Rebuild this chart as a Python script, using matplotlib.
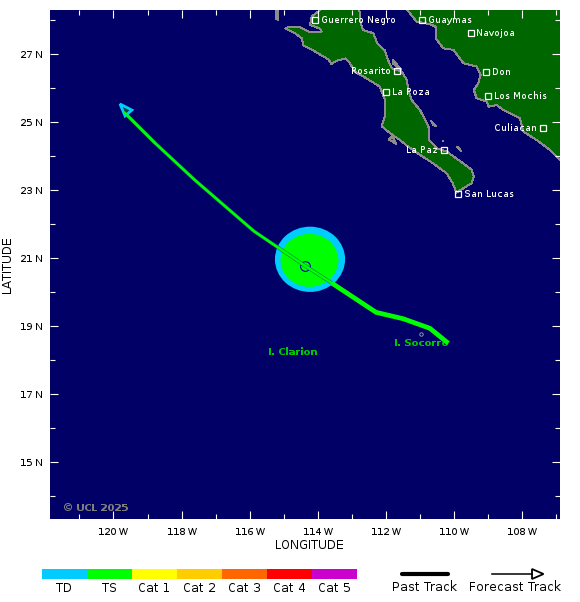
import matplotlib
matplotlib.use("Agg")
import matplotlib.pyplot as plt
from matplotlib.patches import Polygon, Ellipse
from matplotlib.lines import Line2D
from matplotlib.ticker import MultipleLocator, FuncFormatter

plt.rcParams['text.hinting'] = 'native'
plt.rcParams['text.hinting_factor'] = 1

NAVY = '#000066'
LAND = '#006600'
COAST = '#8c8c8c'

TOP = 28.6
EAST = -106.5

baja = [(-112.78, TOP), (-112.78, 28.29), (-112.76, 28.00), (-112.68, 27.71), (-112.37, 27.61), (-112.25, 27.31),
        (-112.03, 27.10), (-111.96, 26.87), (-111.83, 26.58), (-111.54, 26.48), (-111.39, 26.24),
        (-111.34, 25.94), (-111.25, 25.65), (-111.00, 25.35), (-110.85, 25.06), (-110.73, 24.81),
        (-110.73, 24.47), (-110.51, 24.23), (-110.22, 24.13), (-109.73, 23.78), (-109.48, 23.59),
        (-109.42, 23.39), (-109.48, 23.20), (-109.73, 23.05), (-109.93, 22.92), (-110.04, 23.20),
        (-110.22, 23.49), (-110.61, 23.78), (-111.00, 24.03), (-111.34, 24.27), (-111.59, 24.47),
        (-111.88, 24.67), (-112.13, 24.88), (-112.03, 25.16), (-112.03, 25.65), (-112.18, 26.04),
        (-112.57, 26.28), (-112.91, 26.48), (-113.06, 26.73), (-113.18, 26.87), (-113.45, 26.80),
        (-113.60, 26.71), (-113.69, 26.84), (-114.13, 27.10), (-114.43, 27.26), (-114.47, 27.46),
        (-114.67, 27.61), (-114.96, 27.75), (-114.82, 27.80), (-114.52, 27.78), (-114.28, 27.66),
        (-113.89, 27.66), (-113.94, 27.75), (-114.23, 27.85), (-114.18, 28.10), (-113.94, 28.29),
        (-113.94, TOP)]
mainland = [(-111.37, TOP), (-111.37, 28.29), (-111.10, 27.95), (-110.71, 27.88), (-110.54, 27.80), (-110.54, 27.46),
            (-110.32, 27.17), (-110.02, 27.12), (-109.73, 26.73), (-109.34, 26.63), (-109.22, 26.38),
            (-109.29, 26.14), (-109.42, 25.94), (-109.34, 25.70), (-109.04, 25.60), (-108.99, 25.45),
            (-108.75, 25.50), (-108.55, 25.35), (-108.07, 25.11), (-107.97, 24.72), (-107.58, 24.47),
            (-107.19, 24.18), (-106.89, 23.88), (EAST, 23.5), (EAST, TOP)]
islands = [
    [(-115.24, TOP), (-115.16, TOP), (-115.16, 28.00), (-115.24, 28.05)],
    [(-111.79, 26.82), (-111.54, 26.53), (-111.64, 26.58), (-111.80, 26.73)],
    [(-110.68, 25.04), (-110.53, 24.88), (-110.61, 24.91)],
    [(-111.93, 24.49), (-111.69, 24.35), (-111.77, 24.47), (-111.79, 24.59)],
    [(-109.91, 24.27), (-109.78, 24.13), (-109.85, 24.22)],
]

cities = ['Guerrero Negro', 'Guaymas', 'Navojoa', 'Rosarito', 'La Poza', 'Don', 'Los Mochis', 'Culiacan', 'La Paz', 'San Lucas']
city_lon = [-114.07, -110.93, -109.505, -111.67, -111.99, -109.05, -108.99, -107.38, -110.30, -109.88]
city_lat = [27.99, 27.99, 27.61, 26.49, 25.87, 26.47, 25.75, 24.81, 24.17, 22.87]
city_left = ['Rosarito', 'Culiacan', 'La Paz']

past_lon = [-110.17, -110.71, -111.49, -112.29, -113.59]
past_lat = [18.49, 18.93, 19.21, 19.40, 20.26]
fore_lon = [-113.59, -114.38, -115.88, -117.61, -118.78, -119.69]
fore_lat = [20.26, 20.77, 21.79, 23.29, 24.38, 25.29]
arrow_head = [(-119.81, 25.53), (-119.46, 25.35), (-119.66, 25.18)]

td_center = (-114.23, 20.96)
td_radii = (1.03, 0.96)
ts_center = (-114.245, 20.93)
ts_radii = (0.85, 0.78)
storm_pos = (-114.38, 20.77)

cat_labels = ['TD', 'TS', 'Cat 1', 'Cat 2', 'Cat 3', 'Cat 4', 'Cat 5']
cat_colors = ['#00CCFF', '#00FF00', '#FFFF00', '#FFCC00', '#FF6600', '#FF0000', '#CC00CC']

W, H = 580, 602
fig = plt.figure(figsize=(W / 100, H / 100), dpi=100, facecolor='white')
ax = fig.add_axes([50 / W, 1 - 519 / H, 510 / W, 509 / H], facecolor=NAVY)
ax.set_xlim(-121.864, -106.89)
ax.set_ylim(13.32, 28.294)

for poly in [baja, mainland] + islands:
    ax.add_patch(Polygon(poly, closed=True, facecolor=LAND, edgecolor=COAST, linewidth=0.7, antialiased=False, zorder=1))
ax.plot([-110.32], [24.45], 's', ms=1.5, color=COAST, mew=0, zorder=1)
ax.plot([-110.97], [18.76], 'o', ms=2.5, mfc='none', mec='#aaaaaa', mew=0.6, zorder=1)

ax.add_patch(Ellipse(td_center, 2 * td_radii[0], 2 * td_radii[1], facecolor=cat_colors[0], edgecolor='none', zorder=2))
ax.add_patch(Ellipse(ts_center, 2 * ts_radii[0], 2 * ts_radii[1], facecolor=cat_colors[1], edgecolor='none', zorder=3))

ax.plot([storm_pos[0]], [storm_pos[1]], 'o', ms=7, mfc='none', mec='#0000aa', mew=0.8, zorder=4)
ax.plot(fore_lon, fore_lat, color='#007755', lw=2.5, solid_capstyle='butt', zorder=5)
ax.plot(fore_lon, fore_lat, color=cat_colors[1], lw=1.8, solid_capstyle='butt', zorder=6)
ax.plot(past_lon, past_lat, color=cat_colors[1], lw=3.4, solid_capstyle='butt', solid_joinstyle='miter', zorder=6)
ax.add_patch(Polygon(arrow_head, closed=True, facecolor='#004433', edgecolor=cat_colors[0], linewidth=2.0, zorder=6))
ax.plot(fore_lon[-2:], fore_lat[-2:], color=cat_colors[1], lw=1.8, solid_capstyle='butt', zorder=7)

for name, lon, lat in zip(cities, city_lon, city_lat):
    ax.plot([lon], [lat], 's', ms=4.6, mfc='none', mec='white', mew=0.9, zorder=7)
    left = name in city_left
    ax.annotate(name, (lon, lat), xytext=(-4.2 if left else 4.0, 0), textcoords='offset points',
                ha='right' if left else 'left', va='center', color='white', fontsize=6.8, zorder=7)

ax.text(-114.73, 18.22, 'I. Clarion', color='#00C800', fontsize=7, fontweight='bold', ha='center', va='center', zorder=4)
ax.text(-110.97, 18.50, 'I. Socorro', color='#00C800', fontsize=7, fontweight='bold', ha='center', va='center', zorder=4)
ax.text(-121.48, 13.65, '\u00a9 UCL 2025', color='#808080', fontsize=7, fontweight='bold', ha='left', va='center')

ax.xaxis.set_major_locator(MultipleLocator(2))
ax.xaxis.set_minor_locator(MultipleLocator(1))
ax.yaxis.set_major_locator(MultipleLocator(2, offset=1))
ax.yaxis.set_minor_locator(MultipleLocator(1))
ax.xaxis.set_major_formatter(FuncFormatter(lambda v, p: f'{abs(int(round(v)))} W'))
ax.yaxis.set_major_formatter(FuncFormatter(lambda v, p: f'{int(round(v))} N'))
ax.tick_params(axis='both', which='major', direction='in', length=6, width=0.8, color='white',
               top=True, right=True, labelcolor='black', labelsize=7)
ax.tick_params(axis='both', which='minor', direction='in', length=3.5, width=0.8, color='white', top=True, right=True)
ax.tick_params(axis='x', which='major', pad=5.5)
ax.tick_params(axis='y', which='major', pad=5)
for s in ax.spines.values():
    s.set_visible(False)

ax.set_xlabel('LONGITUDE', fontsize=8.3, va='center')
ax.xaxis.set_label_coords(0.509, -0.053)
ax.set_ylabel('LATITUDE', fontsize=8.3, va='center')
ax.yaxis.set_label_coords(-0.0825, 0.5)

cax = fig.add_axes([42 / W, 1 - 579 / H, 315 / W, 10 / H])
cax.bar(range(len(cat_labels)), [1] * len(cat_labels), width=1.0, color=cat_colors, linewidth=0)
cax.set_xlim(-0.5, len(cat_labels) - 0.5)
cax.set_ylim(0, 1)
cax.set_xticks(range(len(cat_labels)), cat_labels, fontsize=8.5)
cax.set_yticks([])
cax.tick_params(axis='x', length=0, pad=2)
for s in cax.spines.values():
    s.set_visible(False)

def fx(p):
    return p / W

def fy(p):
    return 1 - p / H

fig.add_artist(Line2D([fx(402), fx(448)], [fy(574), fy(574)], color='black', lw=3, solid_capstyle='round'))
fig.add_artist(Line2D([fx(492), fx(532)], [fy(574), fy(574)], color='black', lw=1.1))
fig.add_artist(Polygon([(fx(532), fy(569)), (fx(543.5), fy(574)), (fx(532), fy(579))], closed=True,
                       facecolor='none', edgecolor='black', linewidth=1.3, transform=fig.transFigure))
fig.text(fx(424.6), fy(587), 'Past Track', fontsize=9, ha='center', va='center')
fig.text(fx(515), fy(587), 'Forecast Track', fontsize=9, ha='center', va='center')

fig.savefig('out.png', dpi=100)
